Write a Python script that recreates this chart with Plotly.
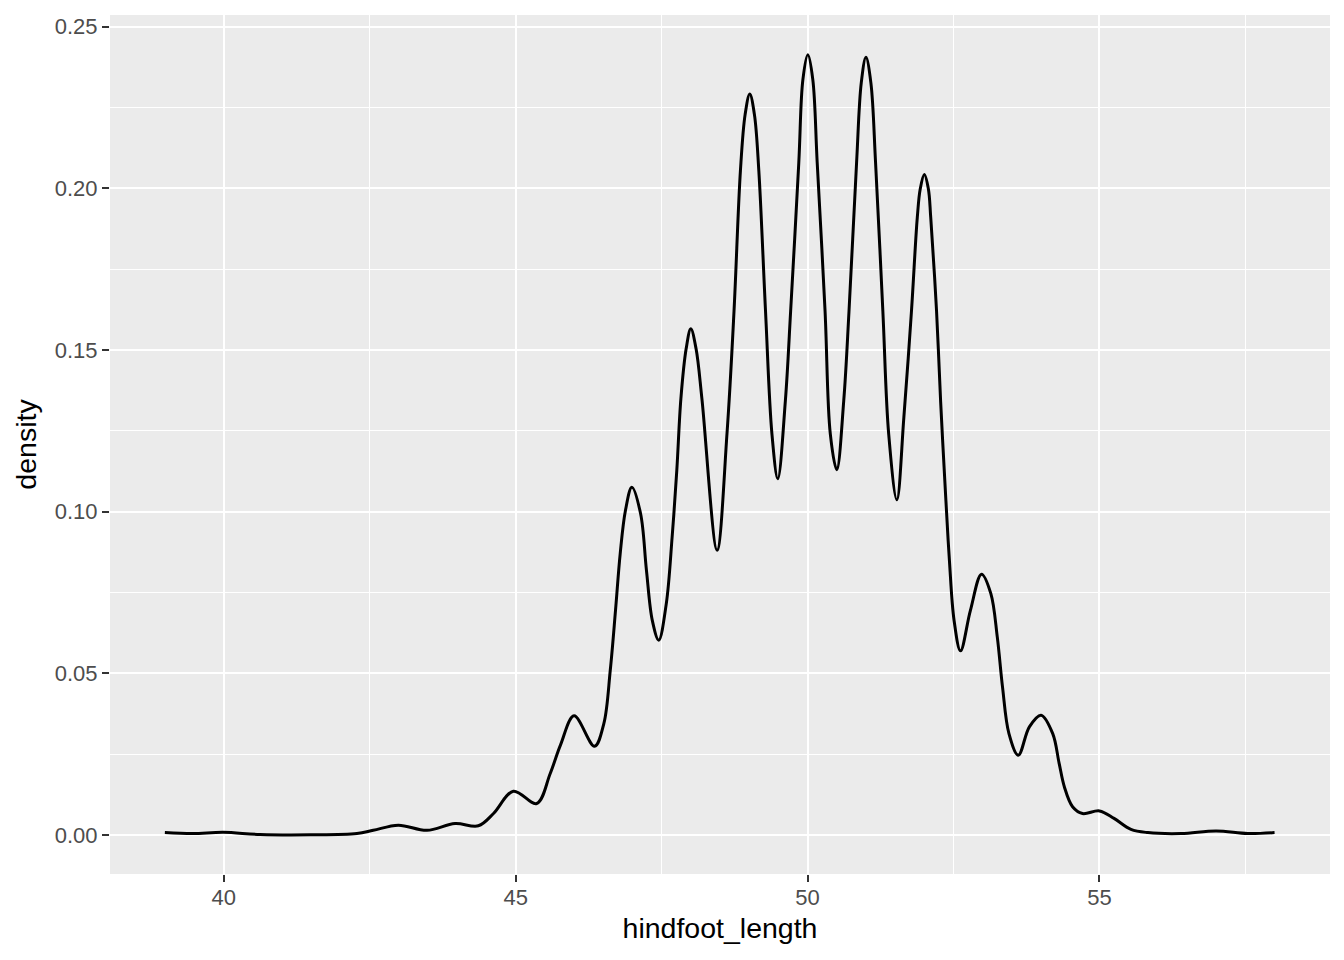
import plotly.graph_objects as go

# density curve of hindfoot_length
hindfoot_length = [
    38.99, 39.47, 39.99, 40.62, 41.48, 42.28, 42.56, 42.99, 43.48, 43.96, 44.36, 44.62,
    44.96, 45.36, 45.59, 45.77, 46.0, 46.35, 46.51, 46.62, 46.71, 46.79, 46.88, 46.99,
    47.14, 47.24, 47.34, 47.45, 47.58, 47.68, 47.76, 47.83, 47.92, 48.0, 48.09, 48.19,
    48.45, 48.62, 48.74, 48.85, 48.93, 49.01, 49.09, 49.165, 49.28, 49.39, 49.49, 49.62,
    49.71, 49.85, 49.92, 50.005, 50.09, 50.165, 50.30, 50.39, 50.50, 50.62, 50.71, 50.84,
    50.92, 51.0, 51.085, 51.165, 51.29, 51.39, 51.53, 51.65, 51.78, 51.88, 51.93, 52.0,
    52.07, 52.11, 52.21, 52.28, 52.37, 52.43, 52.51, 52.62, 52.79, 52.98, 53.14, 53.25,
    53.34, 53.45, 53.61, 53.80, 54.0, 54.20, 54.31, 54.40, 54.54, 54.71, 55.0, 55.25,
    55.54, 55.83, 56.40, 57.0, 57.54, 58.0,
]
density = [
    0.0008, 0.0005, 0.0009, 0.0002, 0.0001, 0.0005, 0.0015, 0.0031, 0.0015, 0.0036, 0.0029, 0.0067,
    0.0136, 0.0098, 0.019, 0.028, 0.0369, 0.0275, 0.0345, 0.051, 0.0695, 0.087, 0.1004, 0.1076,
    0.0994, 0.0819, 0.0664, 0.0603, 0.0716, 0.0922, 0.1128, 0.135, 0.1504, 0.1566, 0.1504, 0.135,
    0.0881, 0.1242, 0.162, 0.2055, 0.2228, 0.2292, 0.2228, 0.2055, 0.162, 0.124, 0.1102, 0.1344,
    0.162, 0.208, 0.2336, 0.2413, 0.2336, 0.208, 0.162, 0.124, 0.113, 0.1344, 0.162, 0.208,
    0.2326, 0.2405, 0.2326, 0.208, 0.162, 0.124, 0.1037, 0.1293, 0.162, 0.191, 0.1998, 0.2043,
    0.1998, 0.191, 0.162, 0.134, 0.1035, 0.085, 0.0664, 0.057, 0.0695, 0.0807, 0.0747, 0.0613,
    0.0458, 0.0314, 0.0247, 0.0335, 0.0371, 0.0314, 0.0222, 0.0149, 0.0088, 0.0067, 0.0075, 0.0052,
    0.0018, 0.0008, 0.0005, 0.0013, 0.0005, 0.0008,
]

x_ticks = [40, 45, 50, 55]
y_ticks = [0.0, 0.05, 0.10, 0.15, 0.20, 0.25]
y_labels = ["0.00", "0.05", "0.10", "0.15", "0.20", "0.25"]

fig = go.Figure(go.Scatter(
    x=hindfoot_length, y=density, mode="lines",
    line=dict(color="black", width=3, shape="spline", smoothing=1.0),
    hoverinfo="skip",
))

font = "Liberation Sans, Arial, sans-serif"
axis_common = dict(
    showgrid=True, gridcolor="white", gridwidth=2.4,
    zeroline=False, showline=False,
    ticks="outside", ticklen=7, tickwidth=2.2, tickcolor="#333333",
    tickfont=dict(family=font, size=22, color="#4D4D4D"),
)

fig.update_xaxes(
    range=[38.05, 58.95], tickvals=x_ticks, ticktext=[str(v) for v in x_ticks],
    ticklabelstandoff=-3,
    title=dict(text="hindfoot_length", font=dict(family=font, size=28.5, color="black"), standoff=8),
    minor=dict(showgrid=True, gridcolor="white", gridwidth=1.2,
               tickvals=[42.5, 47.5, 52.5, 57.5], ticks=""),
    **axis_common,
)
fig.update_yaxes(
    range=[-0.012, 0.2536], tickvals=y_ticks, ticktext=y_labels,
    title=dict(text="density", font=dict(family=font, size=28.5, color="black"), standoff=9),
    minor=dict(showgrid=True, gridcolor="white", gridwidth=1.2,
               tickvals=[0.025, 0.075, 0.125, 0.175, 0.225], ticks=""),
    **axis_common,
)

# page body has an 8px margin, so the figure is sized to sit inside the window
fig.update_layout(
    width=1328, height=944,
    margin=dict(l=102, r=6, t=7, b=78, autoexpand=False),
    plot_bgcolor="#EBEBEB", paper_bgcolor="white",
    showlegend=False,
)

fig.write_html("out.html")
